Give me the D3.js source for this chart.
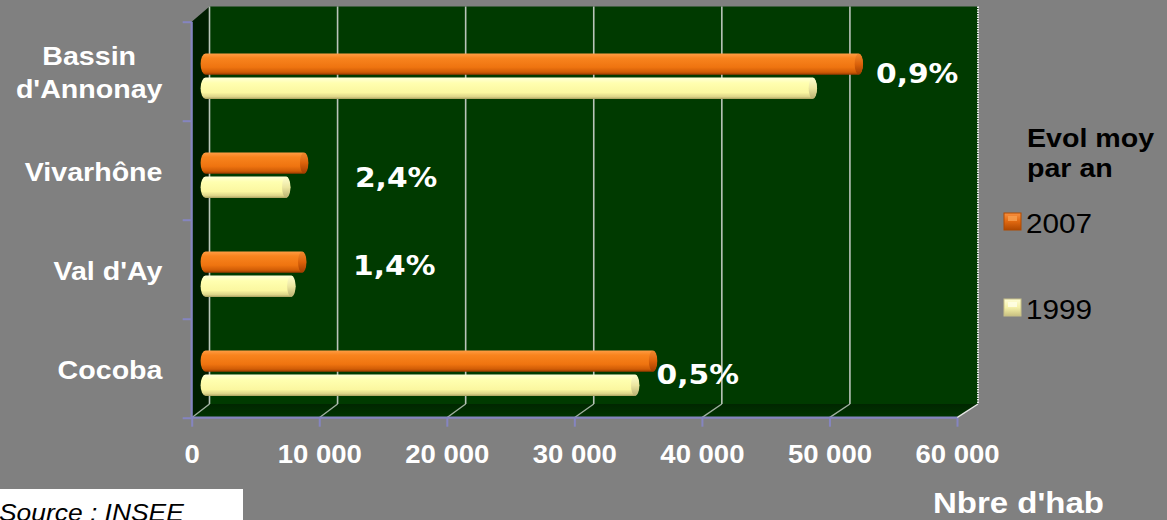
<!DOCTYPE html>
<html>
<head>
<meta charset="utf-8">
<script src="https://cdn.jsdelivr.net/npm/d3@7"></script>
<style>
  html, body { margin: 0; padding: 0; background: #808080; }
  svg { display: block; }
</style>
</head>
<body>
<svg id="chart" width="1167" height="520"></svg>
<script>
// ---------- data ----------
const categories = ["Bassin\nd'Annonay", "Vivarhône", "Val d'Ay", "Cocoba"];
const series = ["2007", "1999"];
const values2007 = [51500, 8100, 7950, 35400];
const values1999 = [47900, 6700, 7100, 34000];
const evolLabels = ["0,9%", "2,4%", "1,4%", "0,5%"];
// where each evolution label is anchored along the value axis (data units)
const evolAnchor = [53650, 12800, 12650, 36450];
const evolShift = [12, 17, 5.5, 15.5];
const tickValues = [0, 10000, 20000, 30000, 40000, 50000, 60000];
const tickLabels = ["0", "10 000", "20 000", "30 000", "40 000", "50 000", "60 000"];
const legendTitle = ["Evol moy", "par an"];
const axisTitle = "Nbre d'hab";
const sourceText = "Source : INSEE";

// ---------- setup ----------
const svg = d3.select("#chart");
const W = 1167, H = 520;
const SX = 1.1; // horizontal stretch of the original picture's text
const ARIAL = "'Liberation Sans', Arial, sans-serif";

svg.append("rect").attr("width", W).attr("height", H).attr("fill", "#808080");

const xf = d3.scaleLinear().domain([0, 60000]).range([191.7, 957]);   // front plane
const xb = d3.scaleLinear().domain([0, 60000]).range([209.5, 978]);   // back wall
const xm = v => (xf(v) + xb(v)) / 2;                                  // bars at mid depth
const yFrontTop = 21.7, yFrontBot = 417.7, yBackTop = 6.5, yBackBot = 404;

const y0 = d3.scaleBand().domain(categories).range([yFrontTop, yFrontBot]).padding(0);
const bw = y0.bandwidth();
const y1 = d3.scaleBand().domain(series).range([0.32 * bw, 0.78 * bw]).paddingInner(0.12);

const defs = svg.append("defs");
function vgrad(id, stops) {
  const g = defs.append("linearGradient").attr("id", id)
    .attr("x1", 0).attr("y1", 0).attr("x2", 0).attr("y2", 1);
  stops.forEach(s => g.append("stop").attr("offset", s[0]).attr("stop-color", s[1]));
}
vgrad("g2007", [[0, "#ff9d45"], [0.22, "#f8841e"], [0.65, "#ef7410"], [0.88, "#d05c06"], [1, "#9a3a00"]]);
vgrad("g1999", [[0, "#ffffd8"], [0.25, "#ffffb0"], [0.7, "#fbf7a0"], [0.9, "#dcd488"], [1, "#aaa260"]]);
vgrad("c2007", [[0, "#f08a30"], [0.5, "#dc620a"], [1, "#a03c00"]]);
vgrad("c1999", [[0, "#ffffd0"], [0.5, "#ece6a0"], [1, "#b8b070"]]);
vgrad("floor", [[0, "#002600"], [1, "#003400"]]);
vgrad("sw2007", [[0, "#f89040"], [0.5, "#e06810"], [1, "#b04800"]]);
vgrad("sw1999", [[0, "#ffffd8"], [0.5, "#f4f0a8"], [1, "#c8c080"]]);

// ---------- 3D box ----------
// back wall
svg.append("rect")
  .attr("x", xb(0)).attr("y", yBackTop)
  .attr("width", xb(60000) - xb(0)).attr("height", yBackBot - yBackTop)
  .attr("fill", "#003a00");
// left side wall
svg.append("path")
  .attr("d", `M${xf(0)},${yFrontTop}L${xb(0)},${yBackTop}L${xb(0)},${yBackBot}L${xf(0)},${yFrontBot}Z`)
  .attr("fill", "#001e00");
// floor
svg.append("path")
  .attr("d", `M${xf(0)},${yFrontBot}L${xb(0)},${yBackBot}L${xb(60000)},${yBackBot}L${xf(60000)},${yFrontBot}Z`)
  .attr("fill", "url(#floor)");

// gridlines on back wall + floor
const grid = svg.append("g");
tickValues.forEach((v, i) => {
  const last = i === tickValues.length - 1;
  grid.append("line")
    .attr("x1", xb(v)).attr("x2", xb(v)).attr("y1", yBackTop).attr("y2", yBackBot)
    .attr("stroke", last ? "#e8e8e8" : "#b9c4b9").attr("stroke-width", last ? 2 : 1.6)
    .attr("stroke-dasharray", last ? "1.5,1" : null);
  grid.append("line")
    .attr("x1", xb(v)).attr("x2", xf(v)).attr("y1", yBackBot).attr("y2", yFrontBot)
    .attr("stroke", last ? "#e8e8e8" : "#9fb09f").attr("stroke-width", 1.4);
});

// ---------- bars (cylinders) ----------
const rows = categories.map((c, i) => ({ c, i, v: { "2007": values2007[i], "1999": values1999[i] } }));
const barG = svg.append("g");
rows.forEach(r => {
  series.forEach(s => {
    const y = y0(r.c) + y1(s);
    const h = y1.bandwidth();
    const x0 = xm(0), x1 = xm(r.v[s]);
    barG.append("rect")
      .attr("x", x0).attr("y", y).attr("width", x1 - x0 + 4).attr("height", h)
      .attr("rx", 5).attr("ry", h / 2)
      .attr("fill", `url(#g${s})`);
    barG.append("ellipse")
      .attr("cx", x1).attr("cy", y + h / 2).attr("rx", 4.2).attr("ry", h / 2)
      .attr("fill", `url(#c${s})`);
  });
});

// ---------- axes ----------
const AXC = "#8585c0";
const xAxis = d3.axisBottom(xf).tickValues(tickValues).tickSize(9).tickPadding(0)
  .tickFormat((d, i) => tickLabels[i]);
const gx = svg.append("g").attr("transform", `translate(0,${yFrontBot})`).call(xAxis);
gx.select(".domain").attr("stroke", AXC).attr("stroke-width", 2.2).attr("d", `M${xf(0)},0H${xf(60000)}`);
gx.selectAll(".tick line").attr("stroke", AXC).attr("stroke-width", 2);
gx.selectAll(".tick text")
  .attr("y", 45.6).attr("dy", null)
  .attr("transform", `scale(${SX},1)`)
  .attr("fill", "#ffffff").attr("font-family", ARIAL).attr("font-weight", "bold").attr("font-size", 25);

const yl = d3.scaleLinear().domain([0, categories.length]).range([yFrontBot, yFrontTop]);
const yAxis = d3.axisLeft(yl).tickValues(d3.range(categories.length + 1)).tickSize(9).tickFormat("");
const gy = svg.append("g").attr("transform", `translate(${xf(0)},0)`).call(yAxis);
gy.select(".domain").attr("stroke", AXC).attr("stroke-width", 2.2).attr("d", `M0,${yFrontTop}V${yFrontBot}`);
gy.selectAll(".tick line").attr("stroke", AXC).attr("stroke-width", 2);

// category labels
const catRight = 162.5;
categories.forEach(c => {
  const lines = c.split("\n");
  const cy = y0(c) + bw / 2;
  const g = svg.append("g");
  const texts = lines.map((ln, j) => {
    const base = cy + 11 - (lines.length - 1) * 17.2 + j * 32.7;
    return g.append("text").text(ln)
      .attr("font-family", ARIAL).attr("font-weight", "bold").attr("font-size", 26)
      .attr("fill", "#ffffff").attr("text-anchor", "middle")
      .attr("data-base", base);
  });
  const maxW = d3.max(texts, t => t.node().getComputedTextLength()) * SX;
  const cx = catRight - maxW / 2;
  texts.forEach(t => t.attr("transform", `translate(${cx},${+t.attr("data-base")}) scale(${SX},1)`));
});

// evolution labels
evolLabels.forEach((lab, i) => {
  const c = categories[i];
  svg.append("text").text(lab)
    .attr("transform", `translate(${xf(evolAnchor[i])},${y0(c) + bw / 2 + evolShift[i]}) scale(${SX},1)`)
    .attr("font-family", "'DejaVu Sans', Verdana, sans-serif").attr("font-weight", "bold")
    .attr("font-size", 27).attr("fill", "#ffffff");
});

// ---------- legend ----------
legendTitle.forEach((t, j) => {
  svg.append("text").text(t)
    .attr("transform", `translate(1027,${146.7 + j * 30}) scale(${SX},1)`)
    .attr("font-family", ARIAL).attr("font-weight", "bold").attr("font-size", 26).attr("fill", "#000000");
});
const legY = d3.scalePoint().domain(series).range([213, 299]);
series.forEach(s => {
  const yy = legY(s);
  svg.append("rect").attr("x", 1004).attr("y", yy).attr("width", 17).attr("height", 17)
    .attr("fill", `url(#sw${s})`).attr("stroke", s === "2007" ? "#b04a00" : "#c8c088").attr("stroke-width", 1);
  svg.append("rect").attr("x", 1008).attr("y", yy + 3).attr("width", 9).attr("height", 5)
    .attr("fill", s === "2007" ? "#f8a050" : "#ffffe8").attr("opacity", 0.8);
  svg.append("text").text(s)
    .attr("transform", `translate(1026,${yy + 20}) scale(${SX},1)`)
    .attr("font-family", ARIAL).attr("font-size", 27).attr("fill", "#000000");
});

// axis title
svg.append("text").text(axisTitle)
  .attr("transform", `translate(933,513) scale(${SX},1)`)
  .attr("font-family", ARIAL).attr("font-weight", "bold").attr("font-size", 30).attr("fill", "#ffffff");

// source box
svg.append("rect").attr("x", 0).attr("y", 489).attr("width", 243).attr("height", 31).attr("fill", "#ffffff");
svg.append("text").text(sourceText)
  .attr("transform", `translate(-1,521) scale(${SX},1)`)
  .attr("font-family", ARIAL).attr("font-style", "italic").attr("font-size", 24).attr("fill", "#000000");
</script>
</body>
</html>
